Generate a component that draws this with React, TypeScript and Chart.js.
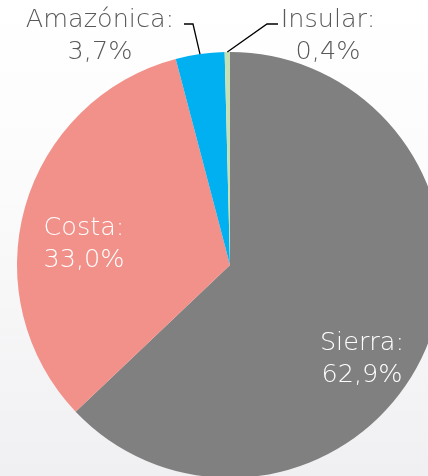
import React, { useEffect, useRef } from "react";
import { Chart, registerables } from "chart.js";

Chart.register(...registerables);

const categories = ["Sierra", "Costa", "Amazónica", "Insular"];
const values = [62.9, 33.0, 3.7, 0.4];
const valueLabels = ["62,9%", "33,0%", "3,7%", "0,4%"];
const colors = ["#808080", "#f1918a", "#00b0f0", "#c5e0b4"];

// label layout: inside labels (dx, dy relative to centre, in px), outside labels with leader lines
const labelLayout = [
  { inside: true, dx: 132, dy: 86 },
  { inside: true, dx: -146, dy: -29 },
  { inside: false, tx: 100, ty: 27, elbowX: 193, elbowY: 24, startX: 184 },
  { inside: false, tx: 328, ty: 27, elbowX: 267, elbowY: 24, startX: 278 },
];

const labelPlugin = {
  id: "pieLabels",
  afterDatasetsDraw(chart: any) {
    const ctx = chart.ctx;
    const meta = chart.getDatasetMeta(0);
    ctx.save();
    ctx.font = '200 25.5px "DejaVu Sans", sans-serif';
    ctx.textAlign = "center";
    ctx.textBaseline = "alphabetic";
    meta.data.forEach((arc: any, i: number) => {
      const L: any = labelLayout[i];
      const cx = arc.x;
      const cy = arc.y;
      if (L.inside) {
        ctx.fillStyle = "#ffffff";
        const x = cx + L.dx;
        const y = cy + L.dy;
        ctx.fillText(categories[i] + ":", x, y - 1);
        ctx.fillText(valueLabels[i], x, y + 31);
      } else {
        ctx.fillStyle = "#595959";
        ctx.fillText(categories[i] + ":", L.tx, L.ty);
        ctx.fillText(valueLabels[i], L.tx, L.ty + 32);
        const mid = (arc.startAngle + arc.endAngle) / 2;
        const r = arc.outerRadius;
        const px = cx + Math.cos(mid) * r;
        const py = cy + Math.sin(mid) * r;
        ctx.strokeStyle = "#000000";
        ctx.lineWidth = 1.3;
        ctx.beginPath();
        ctx.moveTo(L.startX, L.elbowY);
        ctx.lineTo(L.elbowX, L.elbowY);
        ctx.lineTo(px, py);
        ctx.stroke();
      }
    });
    ctx.restore();
  },
};

export default function App() {
  const ref = useRef<HTMLCanvasElement>(null);
  useEffect(() => {
    document.body.style.margin = "0";
    document.body.style.overflow = "hidden";
    const chart = new Chart(ref.current!, {
      type: "pie",
      data: {
        labels: categories,
        datasets: [
          {
            data: values,
            backgroundColor: colors,
            borderWidth: 0,
          },
        ],
      },
      options: {
        animation: false,
        responsive: false,
        maintainAspectRatio: false,
        layout: { padding: 17 },
        plugins: {
          legend: { display: false },
          tooltip: { enabled: false },
        },
      },
      plugins: [labelPlugin],
    });
    return () => chart.destroy();
  }, []);
  return (
    <div
      style={{
        position: "fixed",
        left: 0,
        top: 0,
        width: 428,
        height: 476,
        overflow: "hidden",
        background: "linear-gradient(180deg, #ffffff 0%, #fbfbfc 40%, #f0f0f2 100%)",
      }}
    >
      <canvas
        ref={ref}
        width={460}
        height={530}
        style={{ position: "absolute", left: 0, top: 0, width: 460, height: 530 }}
      />
    </div>
  );
}
